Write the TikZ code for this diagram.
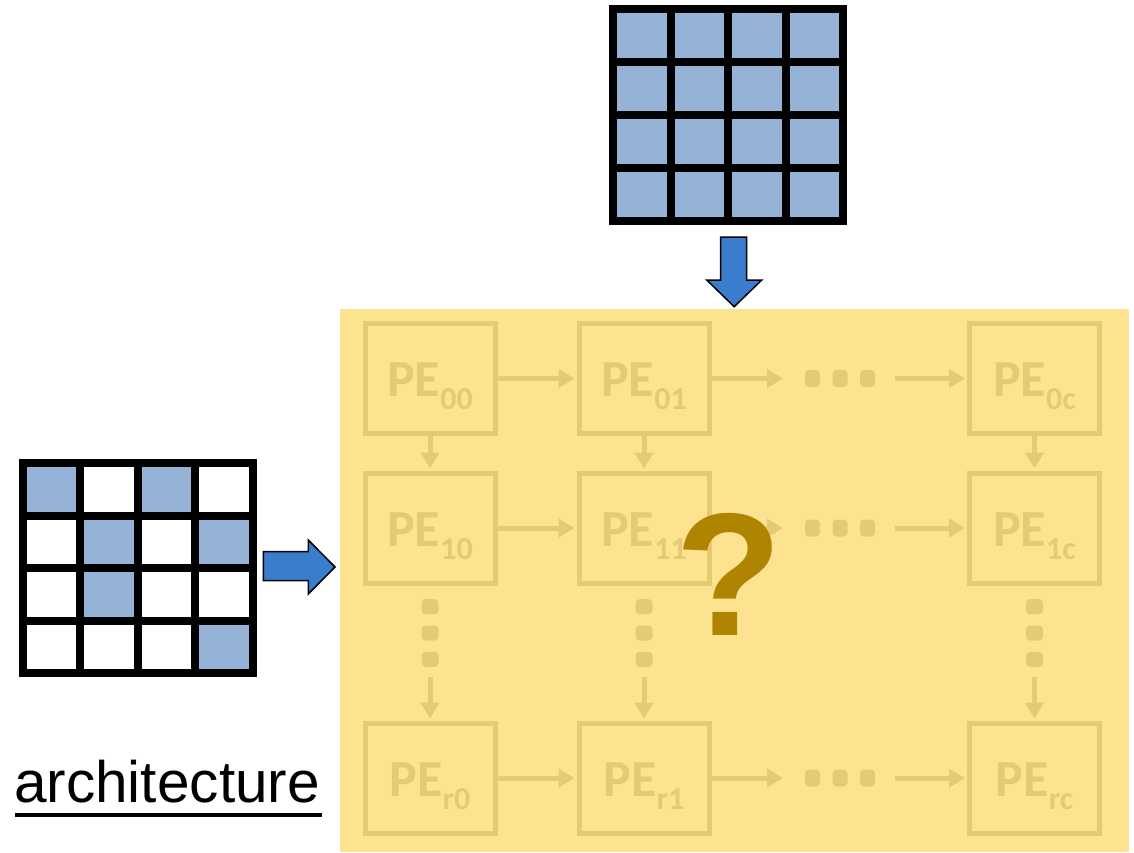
\documentclass[tikz,border=0pt]{standalone}
\usepackage{fontspec}
\setmainfont{Carlito}
\newfontfamily\arialfont{Liberation Sans}
\usetikzlibrary{arrows.meta}
\definecolor{bgyellow}{HTML}{FDE38F}
\definecolor{peline}{HTML}{E5CA74}
\definecolor{qgold}{HTML}{AF8400}
\definecolor{cellblue}{HTML}{95B3D7}
\definecolor{arrowblue}{HTML}{3B7DCD}
\newcommand{\pelabel}[1]{{\fontsize{52}{52}\selectfont\bfseries PE}\raisebox{-13pt}{\fontsize{32}{32}\selectfont\bfseries #1}}
\begin{document}
\begin{tikzpicture}[x=1pt,y=-1pt,
  pebox/.style={draw=peline, line width=5pt, minimum width=130pt, minimum height=110pt, inner sep=0pt},
  petext/.style={text=peline, inner sep=0pt},
  parrow/.style={draw=peline, line width=5pt, shorten >=2pt, -{Triangle[length=16pt,width=18pt]}},
  hdot/.style={fill=peline, rounded corners=4pt, minimum width=15pt, minimum height=17pt, inner sep=0pt},
  vdot/.style={fill=peline, rounded corners=4pt, minimum width=17pt, minimum height=15pt, inner sep=0pt},
  bigarrow/.style={fill=arrowblue, draw=black, line width=1.5pt, line join=miter},
  gridline/.style={line width=8pt, draw=black}]
\useasboundingbox (0,0) rectangle (1134,852);
\fill[white] (0,0) rectangle (1134,852);

% left matrix
\foreach \c/\r in {0/0,2/0,1/1,3/1,1/2,3/3}
  \fill[cellblue] ({22.5+57.5*\c},{463+52.5*\r}) rectangle ++(57.5,52.5);
\foreach \i in {0,...,4} {
  \draw[gridline] ({22.5+57.5*\i},459) -- ({22.5+57.5*\i},677);
  \draw[gridline] (18.5,{463+52.5*\i}) -- (256.5,{463+52.5*\i});
}

% top matrix
\fill[cellblue] (613,9) rectangle (843,220.5);
\foreach \i in {0,...,4} {
  \draw[gridline] ({613+57.5*\i},5) -- ({613+57.5*\i},224.5);
  \draw[gridline] (609,{9+52.875*\i}) -- (847,{9+52.875*\i});
}

% big arrows
\draw[bigarrow] (263.3,551.7) -- (308.3,551.7) -- (308.3,540) -- (335,567) -- (308.3,594) -- (308.3,580.7) -- (263.3,580.7) -- cycle;
\draw[bigarrow] (720.7,237) -- (746.7,237) -- (746.7,280) -- (761.7,280) -- (734.2,306.7) -- (706.7,280) -- (720.7,280) -- cycle;

% array background
\node[fill=bgyellow, minimum width=789pt, minimum height=543pt, inner sep=0pt, anchor=north west] (array) at (340,309) {};

% PE boxes
\foreach \r/\y in {0/378.5, 1/528, r/778}
  \foreach \c/\x in {0/430, 1/644, c/1034.5} {
    \node[pebox] (p\r\c) at (\x,\y) {};
    \node[petext] (t\r\c) at ([yshift=-8pt]p\r\c.center) {\pelabel{\r\c}};
  }

% horizontal connections
\foreach \r/\y in {0/378.5, 1/528, r/778} {
  \draw[parrow] (p\r0) -- (p\r1);
  \coordinate (ha\r) at (785,\y);
  \coordinate (hb\r) at (895,\y);
  \draw[parrow] (p\r1) -- (ha\r);
  \node[hdot] (hd\r a) at (812.5,\y) {};
  \node[hdot] (hd\r b) at (840,\y) {};
  \node[hdot] (hd\r c) at (867.5,\y) {};
  \draw[parrow] (hb\r) -- (p\r c);
}

% vertical connections
\foreach \c/\x in {0/430, 1/644, c/1034.5} {
  \draw[parrow] (p0\c) -- (p1\c);
  \node[vdot] (vd\c a) at (\x,606.7) {};
  \node[vdot] (vd\c b) at (\x,633) {};
  \node[vdot] (vd\c c) at (\x,659.3) {};
  \coordinate (vb\c) at (\x,677);
  \draw[parrow] (vb\c) -- (pr\c);
}

% question mark
\node[text=qgold, font=\arialfont\bfseries\fontsize{175}{175}\selectfont, inner sep=0pt] (q) at (729,574) {?};

% label
\node[anchor=base west, inner sep=0pt, font=\arialfont\fontsize{58.5}{58.5}\selectfont] (archlabel) at (14,802) {architecture};
\draw[line width=4pt] (15,814.5) -- (322,814.5);
\end{tikzpicture}
\end{document}
